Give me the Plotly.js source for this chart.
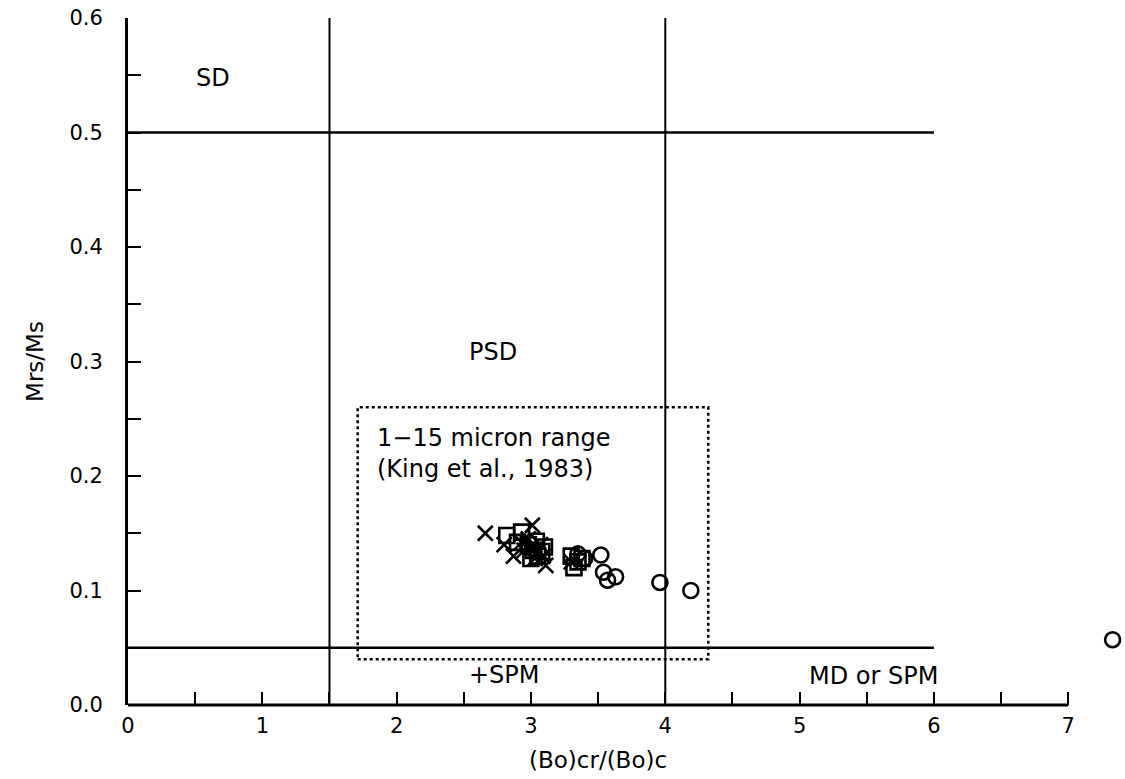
<!DOCTYPE html>
<html>
<head>
<meta charset="utf-8">
<script src="https://cdn.plot.ly/plotly-3.0.1.min.js"></script>
<style>html,body{margin:0;padding:0;background:#fff;}#chart{width:1125px;height:779px;}</style>
</head>
<body>
<div id="chart"></div>
<script>
// Data
const crossX = [2.66, 3.01, 2.80, 2.87, 3.11, 2.95, 3.03, 3.07, 2.98, 3.30, 3.05, 3.00, 3.09, 2.93];
const crossY = [0.150, 0.157, 0.140, 0.130, 0.122, 0.135, 0.128, 0.140, 0.145, 0.125, 0.133, 0.138, 0.130, 0.142];
const squareX = [2.82, 2.93, 2.98, 3.02, 3.05, 3.10, 2.90, 3.30, 3.35, 3.32, 3.38, 3.04, 3.08, 3.00];
const squareY = [0.148, 0.151, 0.140, 0.135, 0.130, 0.138, 0.142, 0.130, 0.125, 0.120, 0.128, 0.143, 0.134, 0.128];
const circleX = [3.35, 3.40, 3.52, 3.54, 3.57, 3.63, 3.96, 4.19, 7.33];
const circleY = [0.132, 0.128, 0.131, 0.116, 0.109, 0.112, 0.107, 0.100, 0.057];

// Region boundaries
const sdLimit = 0.5, spmLimit = 0.05;
const psdLeft = 1.5, psdRight = 4;
const boundaryEnd = 6;
const xAxisEnd = 7;
const kingBox = {x0: 1.71, x1: 4.32, y0: 0.04, y1: 0.26};

const regionLabels = [
  {text: 'SD', x: 0.63, y: 0.548},
  {text: 'PSD', x: 2.72, y: 0.308},
  {text: '+SPM', x: 2.80, y: 0.026},
  {text: 'MD or SPM', x: 5.55, y: 0.025}
];

const font = 'DejaVu Sans, Arial, sans-serif';
const mk = (sym) => ({symbol: sym, size: 15, color: '#000', line: {color: '#000', width: 2.6}});

const traces = [
  {x: crossX, y: crossY, mode: 'markers', type: 'scatter', marker: mk('x-thin-open'), cliponaxis: false},
  {x: squareX, y: squareY, mode: 'markers', type: 'scatter', marker: mk('square-open'), cliponaxis: false},
  {x: circleX, y: circleY, mode: 'markers', type: 'scatter', marker: mk('circle-open'), cliponaxis: false}
];

const shapes = [
  {type: 'line', xref: 'x', yref: 'y', x0: 0, x1: boundaryEnd, y0: sdLimit, y1: sdLimit, line: {color: '#000', width: 2.5}},
  {type: 'line', xref: 'x', yref: 'y', x0: 0, x1: boundaryEnd, y0: spmLimit, y1: spmLimit, line: {color: '#000', width: 2.5}},
  {type: 'line', xref: 'x', yref: 'y', x0: psdLeft, x1: psdLeft, y0: 0, y1: 0.6, line: {color: '#000', width: 2}},
  {type: 'line', xref: 'x', yref: 'y', x0: psdRight, x1: psdRight, y0: 0, y1: 0.6, line: {color: '#000', width: 2}},
  {type: 'rect', xref: 'x', yref: 'y', x0: kingBox.x0, x1: kingBox.x1, y0: kingBox.y0, y1: kingBox.y1,
   line: {color: '#000', width: 2.5, dash: 'dot'}, fillcolor: 'rgba(0,0,0,0)'},
  // bottom axis line, ending at x = 7 like the original
  {type: 'line', xref: 'x', yref: 'paper', x0: 0, x1: xAxisEnd, y0: 0, y1: 0, layer: 'above', line: {color: '#000', width: 3}}
];

const annotations = regionLabels.map(l => ({
  text: l.text, x: l.x, y: l.y, xref: 'x', yref: 'y', showarrow: false,
  font: {family: font, size: 24, color: '#000'}
}));
annotations.push({
  text: '1\u221215 micron range<br>(King et al., 1983)', x: 1.84, y: 0.22, xref: 'x', yref: 'y',
  xanchor: 'left', yanchor: 'middle', align: 'left', showarrow: false,
  font: {family: font, size: 24, color: '#000'}
});
// x-axis title centred under the 0–7 axis
annotations.push({
  text: '(Bo)cr/(Bo)c', x: xAxisEnd / 2, y: 0, xref: 'x', yref: 'paper',
  xanchor: 'center', yanchor: 'top', yshift: -40, showarrow: false,
  font: {family: font, size: 23, color: '#000'}
});

const layout = {
  width: 1125, height: 779,
  margin: {l: 128, r: 3, t: 18, b: 74},
  paper_bgcolor: '#fff', plot_bgcolor: '#fff',
  showlegend: false,
  font: {family: font, color: '#000', size: 21},
  xaxis: {
    range: [0, 7.4], dtick: 1, tick0: 0, showgrid: false, zeroline: false,
    showline: false,
    ticks: 'inside', ticklen: 13, tickwidth: 2, tickcolor: '#000',
    minor: {dtick: 0.5, ticks: 'inside', ticklen: 13, tickwidth: 2, tickcolor: '#000', showgrid: false},
    tickfont: {family: font, size: 21}, ticklabelstandoff: 6
  },
  yaxis: {
    range: [0, 0.6], dtick: 0.1, tick0: 0, tickformat: '.1f', showgrid: false, zeroline: false,
    showline: true, linecolor: '#000', linewidth: 3,
    ticks: 'inside', ticklen: 13, tickwidth: 2, tickcolor: '#000',
    minor: {dtick: 0.05, ticks: 'inside', ticklen: 13, tickwidth: 2, tickcolor: '#000', showgrid: false},
    tickfont: {family: font, size: 21}, ticklabelstandoff: 18,
    title: {text: 'Mrs/Ms', font: {family: font, size: 23}, standoff: 20}
  },
  shapes: shapes,
  annotations: annotations
};

Plotly.newPlot('chart', traces, layout, {displayModeBar: false, staticPlot: true});
</script>
</body>
</html>
